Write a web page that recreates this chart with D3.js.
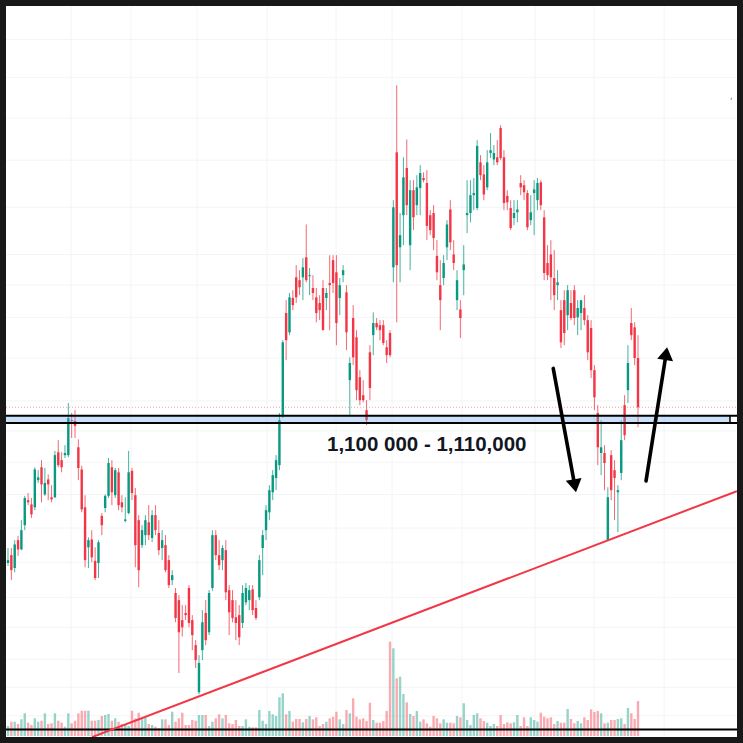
<!DOCTYPE html>
<html>
<head>
<meta charset="utf-8">
<title>Chart</title>
<script src="https://cdn.jsdelivr.net/npm/d3@7"></script>
<style>
  html, body { margin: 0; padding: 0; background: #181818; }
  svg { display: block; }
</style>
</head>
<body>
<svg width="743" height="743"></svg>
<script>
// prices in thousands
const opens = [
  904, 915, 897, 936, 923, 957, 992, 986, 982, 1020,
  1038, 1000, 1021, 996, 996, 1059, 1048, 1055, 1055, 1104,
  1103, 1066, 1035, 982, 926, 937, 907, 904, 970, 981,
  998, 1038, 999, 1031, 989, 963, 974, 1033, 999, 964,
  929, 943, 961, 939, 971, 946, 925, 929, 908, 880,
  862, 852, 824, 834, 869, 824, 789, 723, 782, 834,
  807, 869, 943, 915, 908, 922, 866, 852, 828, 831,
  820, 849, 852, 867, 841, 856, 925, 950, 975, 1003,
  1023, 1041, 1111, 1254, 1227, 1275, 1304, 1300, 1304, 1332,
  1306, 1289, 1276, 1268, 1289, 1275, 1296, 1328, 1311, 1275,
  1307, 1283, 1160, 1247, 1220, 1164, 1139, 1118, 1199, 1223,
  1240, 1237, 1237, 1206, 1226, 1318, 1479, 1346, 1391, 1457,
  1349, 1426, 1405, 1429, 1443, 1436, 1391, 1394, 1334, 1293,
  1303, 1346, 1399, 1336, 1272, 1259, 1314, 1391, 1394, 1419,
  1401, 1465, 1448, 1430, 1478, 1469, 1472, 1513, 1472, 1418,
  1401, 1387, 1395, 1436, 1433, 1422, 1384, 1422, 1412, 1437,
  1388, 1324, 1336, 1303, 1293, 1258, 1272, 1251, 1268, 1286,
  1248, 1254, 1261, 1244, 1233, 1174, 1114, 1058, 1058, 936,
  1055, 1034, 1003, 1030, 1125, 1146, 1240, 1234, 1191
];
const highs = [
  925, 925, 936, 942, 964, 998, 1002, 995, 1038, 1034,
  1048, 1037, 1028, 1013, 1061, 1076, 1059, 1069, 1128, 1114,
  1118, 1077, 1040, 999, 940, 950, 926, 936, 974, 1000,
  1051, 1048, 1037, 1037, 999, 996, 1061, 1037, 1009, 971,
  957, 971, 985, 978, 985, 964, 950, 943, 915, 894,
  869, 859, 845, 845, 873, 831, 796, 775, 838, 852,
  866, 950, 950, 936, 929, 936, 873, 866, 852, 845,
  873, 876, 873, 873, 852, 915, 950, 985, 1013, 1034,
  1055, 1114, 1216, 1272, 1282, 1286, 1321, 1314, 1331, 1378,
  1317, 1307, 1289, 1279, 1300, 1289, 1335, 1335, 1335, 1303,
  1321, 1293, 1192, 1265, 1230, 1174, 1160, 1132, 1209, 1255,
  1247, 1244, 1244, 1216, 1230, 1412, 1573, 1394, 1472, 1497,
  1440, 1440, 1447, 1461, 1451, 1454, 1398, 1405, 1356, 1328,
  1335, 1384, 1412, 1356, 1314, 1272, 1349, 1440, 1440, 1443,
  1496, 1475, 1461, 1482, 1506, 1489, 1496, 1517, 1482, 1426,
  1412, 1412, 1412, 1447, 1440, 1426, 1419, 1440, 1443, 1440,
  1398, 1349, 1356, 1342, 1314, 1272, 1286, 1293, 1286, 1293,
  1272, 1272, 1279, 1251, 1244, 1181, 1125, 1104, 1069, 1010,
  1062, 1048, 1013, 1104, 1139, 1209, 1261, 1241, 1223
];
const lows = [
  900, 880, 891, 914, 922, 950, 985, 967, 978, 1016,
  989, 998, 992, 989, 995, 1038, 1031, 1051, 1052, 1079,
  1079, 1020, 975, 898, 897, 905, 880, 883, 943, 975,
  995, 985, 995, 978, 975, 961, 972, 992, 898, 870,
  925, 929, 936, 933, 943, 915, 908, 891, 869, 873,
  821, 750, 801, 824, 814, 782, 757, 720, 768, 789,
  803, 865, 908, 894, 894, 852, 803, 821, 796, 789,
  813, 845, 838, 831, 824, 852, 887, 936, 964, 992,
  1006, 1034, 1107, 1188, 1223, 1258, 1268, 1279, 1272, 1297,
  1279, 1272, 1241, 1244, 1230, 1258, 1230, 1282, 1209, 1251,
  1297, 1202, 1111, 1181, 1132, 1125, 1129, 1097, 1132, 1195,
  1230, 1216, 1209, 1184, 1192, 1297, 1241, 1297, 1349, 1391,
  1314, 1370, 1391, 1391, 1437, 1356, 1363, 1342, 1300, 1230,
  1293, 1328, 1342, 1314, 1258, 1219, 1279, 1366, 1381, 1398,
  1398, 1440, 1412, 1426, 1471, 1461, 1461, 1468, 1398, 1398,
  1370, 1377, 1381, 1419, 1412, 1370, 1377, 1363, 1398, 1398,
  1300, 1300, 1272, 1258, 1272, 1205, 1209, 1230, 1244, 1237,
  1223, 1230, 1237, 1188, 1163, 1118, 1041, 1027, 1006, 936,
  992, 964, 947, 1020, 1076, 1128, 1216, 1181, 1094
];
const closes = [
  908, 894, 930, 923, 950, 995, 989, 972, 1035, 1024,
  1014, 1016, 1014, 993, 1055, 1041, 1038, 1058, 1107, 1103,
  1096, 1037, 979, 908, 936, 912, 883, 933, 957, 998,
  1044, 1003, 1034, 985, 982, 965, 1031, 1002, 929, 894,
  950, 964, 943, 971, 950, 922, 936, 894, 873, 887,
  827, 807, 814, 831, 820, 803, 768, 764, 821, 796,
  862, 943, 915, 901, 925, 863, 835, 827, 820, 800,
  862, 869, 866, 838, 827, 908, 943, 978, 1006, 1027,
  1048, 1104, 1213, 1216, 1276, 1265, 1276, 1290, 1318, 1300,
  1307, 1282, 1254, 1258, 1230, 1282, 1293, 1296, 1240, 1293,
  1314, 1227, 1184, 1192, 1146, 1132, 1132, 1104, 1149, 1240,
  1234, 1230, 1212, 1195, 1195, 1402, 1321, 1363, 1444, 1405,
  1426, 1388, 1430, 1450, 1440, 1376, 1370, 1359, 1311, 1272,
  1324, 1378, 1353, 1324, 1300, 1247, 1322, 1394, 1419, 1422,
  1488, 1447, 1420, 1465, 1482, 1478, 1465, 1471, 1408, 1409,
  1373, 1394, 1399, 1430, 1423, 1374, 1395, 1427, 1436, 1405,
  1310, 1307, 1304, 1279, 1297, 1213, 1226, 1286, 1247, 1247,
  1261, 1272, 1244, 1199, 1174, 1136, 1066, 1066, 1044, 996,
  1006, 1023, 1006, 1076, 1083, 1184, 1223, 1191, 1122
];
const volumes = [
  10, 14.3, 14.3, 12, 16.7, 22.7, 13.3, 11, 17.7, 14.3, 15.3, 22.7, 12, 12.7, 22.7, 15.3, 13.3, 9.3, 22.7, 12.7,
  15.3, 22.7, 25.3, 25.3, 25.3, 15.3, 15.3, 16, 20, 21, 22, 15.3, 17.7, 14.3, 12, 12, 10, 25.3, 17.7, 23.3,
  17.7, 18.7, 12, 11, 9.3, 7.7, 16.7, 16.7, 11, 24.3, 14.3, 17.7, 23.3, 11, 11, 16, 15.3, 21, 21, 21,
  10, 14.3, 17.7, 21.7, 17.7, 21, 12.7, 12, 16, 10, 10, 16.7, 9.3,
  8.7, 8.7, 26, 15.3, 12, 25, 21.7, 20, 38.7, 42.7, 21.7, 25, 14.3, 17, 17, 13.7, 17, 20, 16.7, 18.7,
  10, 12, 14.3, 17.7, 19.3, 24.3, 16.7, 12, 26, 22.7, 37.7, 19.3, 16.7, 17.7, 15, 33.3, 16, 13.3, 13.3, 15,
  25, 94.3, 87.7, 57.7, 59.3, 42, 33.7, 22, 20, 25, 14.3, 16.7, 12.7, 9.3, 20, 17.7, 12.7, 16.7, 13.3, 13.3,
  12.7, 20, 18.7, 32.7, 16, 11, 21, 22.7, 17.7, 15, 13.3, 10, 12, 10,
  21, 12, 13.7, 12.7, 13.7, 21, 10, 18.7, 10, 18.7, 16, 14.3, 23.3, 19.3, 17.7, 18.7, 12, 15, 13.3, 13.3,
  27, 17, 12.7, 15, 12.7, 18.7, 16, 26.7, 24, 25, 22.7, 12.7, 13.3, 16, 16, 17, 17.7, 12, 28, 22.7,
  17, 35
];

// drawings
const zoneLow = 1100, zoneHigh = 1110;
const zoneLabel = "1,100 000 - 1,110,000";
const floorLevel = 671;
const trendLine = [[25.07, 660.2], [217.5, 1004.6]];
const arrowDown = [[162.7, 1176.4], [169.5, 1003.2]];
const arrowUp = [[190.4, 1019], [196.7, 1206.2]];
const gridPrices = [1637, 1584, 1527, 1468, 1402, 1336, 1293, 1248, 1191, 1131, 1089, 1045, 1000, 953, 905, 856, 814, 769, 730, 690];
const gridTimes = [18.8, 36.7, 56.4, 77.3, 97.9, 114.6, 135.5, 157.3, 174.9, 195.8];

const up = "#089981", down = "#f23645";
const svg = d3.select("svg");
const pLeft = 6, pTop = 6, pRight = 737, pBottom = 737;
const n = closes.length;

const x = d3.scaleLinear().domain([0, n - 1]).range([8, 638]);
const y = d3.scaleLinear().domain([700, 1600]).range([708.7, 65.9]);
const v = d3.scaleLinear().domain([0, 100]).range([736, 636]);

svg.append("defs").append("clipPath").attr("id", "plot")
  .append("rect").attr("x", pLeft).attr("y", pTop).attr("width", pRight - pLeft).attr("height", pBottom - pTop);

svg.append("rect").attr("x", pLeft).attr("y", pTop)
  .attr("width", pRight - pLeft).attr("height", pBottom - pTop).attr("fill", "#ffffff");

const g = svg.append("g").attr("clip-path", "url(#plot)");

// grid
g.selectAll("line.vg").data(gridTimes).enter().append("line")
  .attr("x1", d => x(d)).attr("x2", d => x(d)).attr("y1", pTop).attr("y2", pBottom)
  .attr("stroke", "#f3f4f6").attr("stroke-width", 1);
g.selectAll("line.hg").data(gridPrices).enter().append("line")
  .attr("x1", pLeft).attr("x2", pRight).attr("y1", d => y(d)).attr("y2", d => y(d))
  .attr("stroke", "#f3f4f6").attr("stroke-width", 1);

const bars = d3.range(n).map(i => ({
  i, o: opens[i], h: highs[i], l: lows[i], c: closes[i], vol: volumes[i]
}));

// volume
g.selectAll("rect.vol").data(bars).enter().append("rect")
  .attr("x", d => x(d.i) - 1.2).attr("width", 2.4)
  .attr("y", d => v(d.vol)).attr("height", d => v(0) - v(d.vol))
  .attr("fill", d => d.c >= d.o ? up : down)
  .attr("opacity", 0.42);

// candles
const cg = g.selectAll("g.candle").data(bars).enter().append("g");
cg.append("line")
  .attr("x1", d => x(d.i)).attr("x2", d => x(d.i))
  .attr("y1", d => y(d.h)).attr("y2", d => y(d.l))
  .attr("stroke", d => d.c >= d.o ? up : down).attr("stroke-width", 1)
  .attr("opacity", 0.75);
cg.append("rect")
  .attr("x", d => x(d.i) - 1.2).attr("width", 2.4)
  .attr("y", d => y(Math.max(d.o, d.c)))
  .attr("height", d => Math.max(1, Math.abs(y(d.o) - y(d.c))))
  .attr("fill", d => d.c >= d.o ? up : down);

// last price dotted line
g.append("line")
  .attr("x1", pLeft).attr("x2", pRight)
  .attr("y1", y(closes[n - 1])).attr("y2", y(closes[n - 1]))
  .attr("stroke", down).attr("stroke-opacity", 0.45)
  .attr("stroke-width", 1).attr("stroke-dasharray", "1,2");

// zone
g.append("rect").attr("x", pLeft).attr("width", 730 - pLeft)
  .attr("y", y(zoneHigh)).attr("height", y(zoneLow) - y(zoneHigh))
  .attr("fill", "rgba(90,160,235,0.32)");
g.selectAll("line.zone").data([zoneHigh, zoneLow]).enter().append("line")
  .attr("x1", pLeft).attr("x2", pRight).attr("y1", d => y(d)).attr("y2", d => y(d))
  .attr("stroke", "#000").attr("stroke-width", 2);
g.append("line").attr("x1", 730).attr("x2", 730)
  .attr("y1", y(zoneHigh)).attr("y2", y(zoneLow))
  .attr("stroke", "#000").attr("stroke-width", 1.5);

// bottom level
g.append("line").attr("x1", pLeft).attr("x2", pRight)
  .attr("y1", y(floorLevel)).attr("y2", y(floorLevel))
  .attr("stroke", "#000").attr("stroke-width", 2);

// trend line
g.append("line")
  .attr("x1", x(trendLine[0][0])).attr("y1", y(trendLine[0][1]))
  .attr("x2", x(trendLine[1][0])).attr("y2", y(trendLine[1][1]))
  .attr("stroke", down).attr("stroke-width", 2);

// arrows
function arrow(pts) {
  const x1 = x(pts[0][0]), y1 = y(pts[0][1]);
  const x2 = x(pts[1][0]), y2 = y(pts[1][1]);
  const a = Math.atan2(y2 - y1, x2 - x1);
  const len = 13, half = 8;
  const bx = x2 - len * Math.cos(a), by = y2 - len * Math.sin(a);
  g.append("line").attr("x1", x1).attr("y1", y1).attr("x2", bx).attr("y2", by)
    .attr("stroke", "#000").attr("stroke-width", 3.6).attr("stroke-linecap", "round");
  g.append("path")
    .attr("d", `M${x2},${y2}L${bx + half * Math.sin(a)},${by - half * Math.cos(a)}L${bx - half * Math.sin(a)},${by + half * Math.cos(a)}Z`)
    .attr("fill", "#000");
}
arrow(arrowDown);
arrow(arrowUp);

// label
g.append("text")
  .attr("x", 327).attr("y", y(zoneLow) + 28)
  .attr("font-family", "Liberation Sans, Arial, sans-serif")
  .attr("font-size", 20.5).attr("font-weight", "bold").attr("fill", "#131722")
  .text(zoneLabel);

g.append("text").attr("x", 730).attr("y", 99)
  .attr("font-family", "DejaVu Sans, sans-serif").attr("font-size", 8)
  .attr("fill", "#666").text(",");
</script>
</body>
</html>
